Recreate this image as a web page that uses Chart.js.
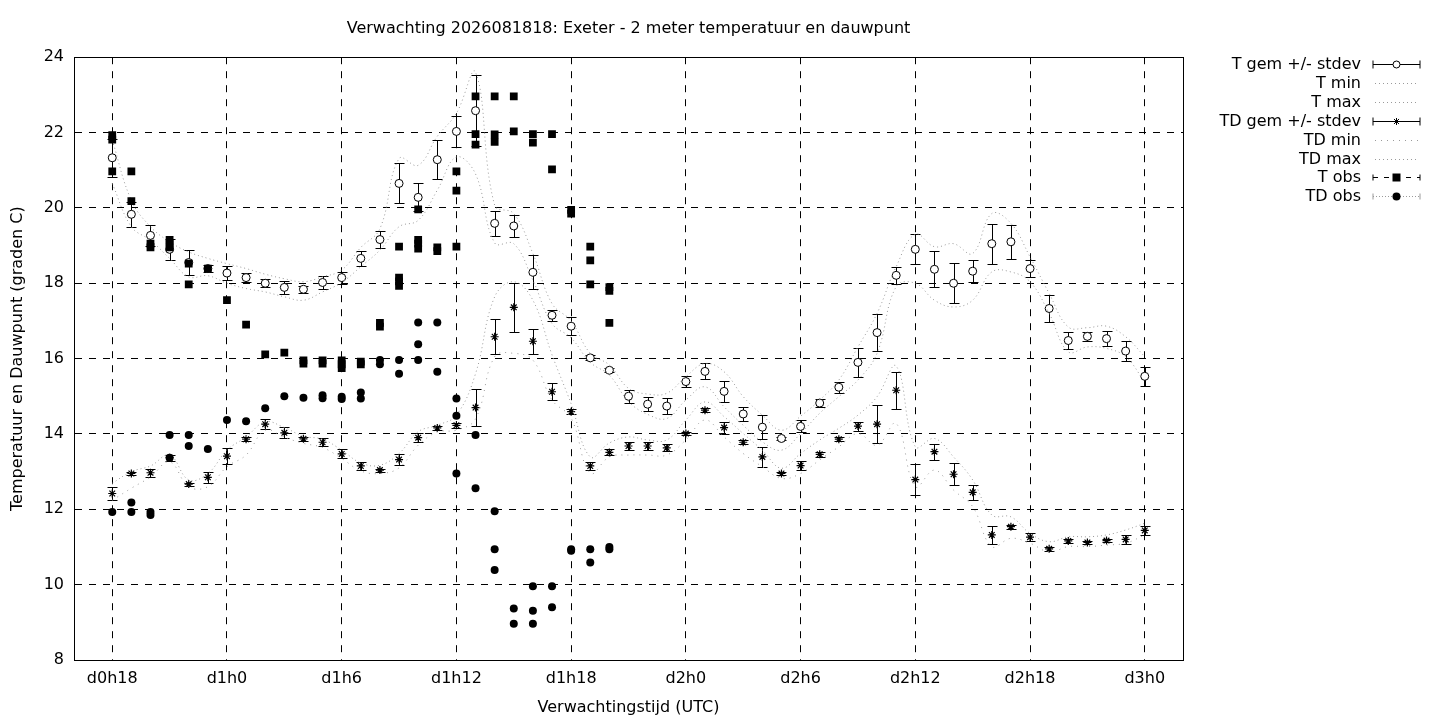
<!DOCTYPE html>
<html>
<head>
<meta charset="utf-8">
<script src="https://cdn.jsdelivr.net/npm/chart.js@4.4.1/dist/chart.umd.min.js"></script>
<style>
  html, body { margin: 0; padding: 0; background: #fff; }
  canvas { display: block; }
</style>
</head>
<body>
<canvas id="myChart" width="1440" height="720"></canvas>
<script>
const hours = [18, 19, 20, 21, 22, 23, 24, 25, 26, 27, 28, 29, 30, 31, 32, 33, 34, 35, 36,
  37, 38, 39, 40, 41, 42, 43, 44, 45, 46, 47, 48, 49, 50, 51, 52, 53, 54, 55, 56, 57, 58,
  59, 60, 61, 62, 63, 64, 65, 66, 67, 68, 69, 70, 71, 72]

const tickHours = [18, 24, 30, 36, 42, 48, 54, 60, 66, 72]
const tickLabels = ['d0h18', 'd1h0', 'd1h6', 'd1h12', 'd1h18', 'd2h0', 'd2h6', 'd2h12', 'd2h18', 'd3h0']

// forecast temperature: ensemble mean, stdev, min, max
const tGem = [21.33, 19.83, 19.27, 18.9, 18.55, 18.39, 18.27, 18.15, 18.0, 17.89, 17.84, 18.02,
  18.15, 18.66, 19.16, 20.65, 20.28, 21.28, 22.03, 22.58, 19.59, 19.52, 18.29, 17.15, 16.86,
  16.02, 15.69, 15.0, 14.79, 14.74, 15.39, 15.66, 15.13, 14.53, 14.18, 13.88, 14.2, 14.82,
  15.24, 15.9, 16.69, 18.21, 18.9, 18.37, 18.0, 18.32, 19.05, 19.1, 18.39, 17.33, 16.48,
  16.59, 16.53, 16.2, 15.53]
const tStd = [0.5, 0.33, 0.27, 0.27, 0.32, 0.1, 0.18, 0.13, 0.1, 0.18, 0.1, 0.16, 0.16, 0.2,
  0.22, 0.53, 0.37, 0.52, 0.41, 0.95, 0.33, 0.3, 0.45, 0.15, 0.24, 0.07, 0.05, 0.17, 0.19,
  0.22, 0.14, 0.21, 0.28, 0.18, 0.32, 0.05, 0.16, 0.1, 0.15, 0.38, 0.49, 0.23, 0.4, 0.48,
  0.53, 0.3, 0.53, 0.45, 0.22, 0.37, 0.23, 0.12, 0.19, 0.27, 0.25]
const tMin = [20.65, 19.5, 19.14, 18.66, 18.17, 18.2, 18.0, 17.86, 17.77, 17.64, 17.55, 17.77,
  18.02, 18.44, 18.88, 19.5, 19.67, 20.47, 21.35, 20.9, 19.07, 19.05, 18.08, 16.93, 16.55,
  15.9, 15.56, 14.86, 14.52, 14.41, 14.9, 15.25, 14.72, 14.23, 13.79, 13.57, 14.01, 14.55,
  14.99, 15.43, 16.14, 17.91, 18.0, 17.55, 17.37, 17.55, 18.3, 18.3, 18.04, 17.2, 16.18,
  16.31, 16.27, 16.05, 15.38]
const tMax = [21.8, 20.2, 19.5, 19.1, 18.83, 18.66, 18.52, 18.39, 18.24, 18.12, 18.04, 18.17,
  18.35, 18.95, 19.45, 21.31, 21.13, 21.9, 22.51, 23.6, 20.07, 19.85, 18.79, 17.46, 17.0,
  16.14, 15.83, 15.21, 15.06, 15.08, 15.52, 15.87, 15.65, 14.99, 14.5, 14.1, 14.47, 14.9,
  15.43, 16.31, 17.2, 18.44, 19.3, 18.97, 19.05, 18.79, 19.85, 19.59, 18.7, 17.73, 16.84,
  16.82, 16.86, 16.58, 16.05]

// forecast dew point
const tdGem = [12.42, 12.95, 12.97, 13.37, 12.67, 12.85, 13.41, 13.86, 14.26, 14.03, 13.87,
  13.78, 13.47, 13.15, 13.04, 13.32, 13.9, 14.16, 14.23, 14.7, 16.58, 17.36, 16.46, 15.12,
  14.59, 13.15, 13.51, 13.68, 13.68, 13.63, 14.01, 14.63, 14.17, 13.78, 13.39, 12.95, 13.16,
  13.46, 13.86, 14.21, 14.26, 15.16, 12.79, 13.53, 12.93, 12.45, 11.32, 11.54, 11.26, 10.95,
  11.16, 11.12, 11.17, 11.2, 11.44]
const tdStd = [0.16, 0.05, 0.1, 0.08, 0.04, 0.14, 0.21, 0.05, 0.13, 0.15, 0.05, 0.1, 0.12,
  0.1, 0.04, 0.14, 0.12, 0.05, 0.06, 0.5, 0.47, 0.65, 0.33, 0.22, 0.07, 0.11, 0.08, 0.1, 0.1,
  0.09, 0.05, 0.05, 0.16, 0.06, 0.26, 0.05, 0.13, 0.06, 0.06, 0.12, 0.5, 0.49, 0.41, 0.21,
  0.29, 0.2, 0.23, 0.05, 0.1, 0.05, 0.05, 0.05, 0.05, 0.13, 0.12]
const tdMin = [12.24, 12.56, 12.86, 13.26, 12.6, 12.6, 13.13, 13.44, 14.1, 13.91, 13.75, 13.64,
  13.35, 13.02, 12.95, 13.1, 13.7, 14.05, 14.1, 14.4, 16.05, 16.14, 15.96, 14.9, 14.42,
  12.96, 13.39, 13.44, 13.44, 13.44, 13.84, 14.37, 13.92, 13.48, 13.13, 12.82, 12.95, 13.31,
  13.66, 14.01, 13.7, 14.28, 12.6, 13.04, 12.51, 12.07, 11.01, 11.23, 11.1, 10.87, 11.01,
  11.01, 11.05, 11.1, 11.32]
const tdMax = [12.69, 13.0, 13.15, 13.44, 12.78, 12.95, 13.57, 13.92, 14.32, 14.17, 13.94,
  13.86, 13.57, 13.23, 13.17, 13.48, 14.06, 14.23, 14.5, 15.6, 17.64, 18.04, 17.55, 16.1,
  14.8, 13.39, 13.76, 13.92, 13.84, 13.84, 14.37, 14.85, 14.46, 14.01, 13.57, 13.09, 13.48,
  13.84, 14.15, 14.5, 14.99, 15.8, 13.66, 13.88, 13.39, 12.78, 11.85, 11.8, 11.36, 11.14,
  11.27, 11.27, 11.32, 11.45, 11.63]

// observations (several per hour)
const tObsHours = [18, 18, 18, 19, 19, 20, 20, 21, 21, 21, 22, 22, 23, 24, 25, 26, 27, 28, 28,
  29, 29, 30, 30, 30, 31, 31, 32, 32, 33, 33, 33, 33, 34, 34, 34, 34, 35, 35, 36, 36, 36,
  37, 37, 37, 38, 38, 38, 39, 39, 40, 40, 41, 41, 42, 42, 43, 43, 43, 44, 44, 44]
const tObsValues = [21.93, 21.81, 20.97, 20.97, 20.18, 19.05, 18.95, 19.15, 19.05, 18.95,
  18.52, 17.97, 18.39, 17.55, 16.9, 16.11, 16.16, 15.95, 15.87, 15.95, 15.87, 15.95, 15.85,
  15.75, 15.92, 15.85, 16.95, 16.85, 18.97, 18.15, 18.05, 17.93, 19.96, 19.15, 19.05, 18.92,
  18.95, 18.85, 20.97, 20.46, 18.97, 22.96, 21.96, 21.68, 22.96, 21.95, 21.75, 22.96, 22.03,
  21.96, 21.73, 21.96, 21.02, 19.95, 19.85, 18.97, 18.61, 17.97, 17.9, 17.8, 16.95]

const tdObsHours = [18, 19, 19, 20, 20, 21, 21, 22, 22, 23, 24, 25, 26, 27, 28, 29, 29, 30, 30,
  31, 31, 32, 32, 33, 33, 34, 34, 34, 35, 35, 36, 36, 36, 37, 37, 38, 38, 38, 39, 39, 40, 40,
  40, 41, 41, 42, 42, 43, 43, 44, 44]
const tdObsValues = [11.93, 12.18, 11.93, 11.93, 11.85, 13.97, 13.37, 13.97, 13.68, 13.6, 14.37,
  14.34, 14.68, 15.0, 14.96, 15.03, 14.95, 14.99, 14.93, 15.1, 14.94, 15.96, 15.85, 15.96,
  15.6, 16.96, 16.38, 15.96, 16.96, 15.65, 14.94, 14.48, 12.95, 13.97, 12.56, 11.95, 10.94,
  10.39, 9.37, 8.96, 9.96, 9.31, 8.96, 9.96, 9.4, 10.94, 10.9, 10.94, 10.59, 11.0, 10.94]

const legendLabels = ['T gem +/- stdev', 'T min', 'T max', 'TD gem +/- stdev', 'TD min',
  'TD max', 'T obs', 'TD obs']

const FONT = 'DejaVu Sans'
const GREY = '#9a9a9a'

function pairs(xs, ys) {
  return xs.map((h, i) => ({ x: h, y: ys[i] }))
}

function drawStar(ctx, x, y, r) {
  ctx.beginPath()
  ctx.moveTo(x - r, y); ctx.lineTo(x + r, y)
  ctx.moveTo(x, y - r); ctx.lineTo(x, y + r)
  const d = r * 0.72
  ctx.moveTo(x - d, y - d); ctx.lineTo(x + d, y + d)
  ctx.moveTo(x - d, y + d); ctx.lineTo(x + d, y - d)
  ctx.stroke()
}

// stdev whiskers, drawn before the points so the open circles sit on top
const errorBars = {
  id: 'errorBars',
  beforeDatasetsDraw(chart) {
    const { ctx, scales: { x, y } } = chart
    ctx.save()
    ctx.strokeStyle = '#000'
    ctx.lineWidth = 1
    const draw = (means, stds) => {
      hours.forEach((h, i) => {
        const px = Math.round(x.getPixelForValue(h)) + 0.5
        const top = Math.round(y.getPixelForValue(means[i] + stds[i])) + 0.5
        const bot = Math.round(y.getPixelForValue(means[i] - stds[i])) + 0.5
        ctx.beginPath()
        ctx.moveTo(px, top); ctx.lineTo(px, bot)
        ctx.moveTo(px - 5, top); ctx.lineTo(px + 5, top)
        ctx.moveTo(px - 5, bot); ctx.lineTo(px + 5, bot)
        ctx.stroke()
      })
    }
    draw(tGem, tStd)
    draw(tdGem, tdStd)
    ctx.restore()
  }
}

// plot frame + gnuplot style key on the right
const frameAndKey = {
  id: 'frameAndKey',
  afterDraw(chart) {
    const { ctx, chartArea: a } = chart
    ctx.save()
    ctx.strokeStyle = '#000'
    ctx.lineWidth = 1
    ctx.setLineDash([])
    ctx.strokeRect(Math.round(a.left) + 0.5, Math.round(a.top) + 0.5,
      Math.round(a.right - a.left), Math.round(a.bottom - a.top))

    ctx.font = '16px "' + FONT + '"'
    ctx.fillStyle = '#000'
    ctx.textAlign = 'right'
    ctx.textBaseline = 'middle'
    const x0 = 1373, x1 = 1420, xm = (x0 + x1) / 2
    legendLabels.forEach((label, i) => {
      const yy = Math.round(64 + i * 18.9) + 0.5
      ctx.fillText(label, 1361, yy)
      ctx.strokeStyle = '#000'
      ctx.setLineDash([])
      if (i === 0 || i === 3) {
        ctx.beginPath()
        ctx.moveTo(x0, yy); ctx.lineTo(x1, yy)
        ctx.moveTo(x0, yy - 4); ctx.lineTo(x0, yy + 4)
        ctx.moveTo(x1, yy - 4); ctx.lineTo(x1, yy + 4)
        ctx.stroke()
        if (i === 0) {
          ctx.beginPath()
          ctx.arc(xm, yy, 3.5, 0, Math.PI * 2)
          ctx.fillStyle = '#fff'
          ctx.fill()
          ctx.stroke()
          ctx.fillStyle = '#000'
        } else {
          drawStar(ctx, xm, yy, 3.5)
        }
      } else if (i === 6 || i === 7) {
        ctx.setLineDash(i === 6 ? [5, 6] : [1, 2])
        ctx.strokeStyle = i === 6 ? '#000' : GREY
        ctx.beginPath()
        ctx.moveTo(x0, yy); ctx.lineTo(x1, yy)
        ctx.stroke()
        ctx.setLineDash([])
        ctx.beginPath()
        ctx.moveTo(x0, yy - 3); ctx.lineTo(x0, yy + 3)
        ctx.moveTo(x1, yy - 3); ctx.lineTo(x1, yy + 3)
        ctx.stroke()
        ctx.fillStyle = '#000'
        ctx.beginPath()
        if (i === 6) ctx.rect(xm - 4, yy - 4, 8, 8)
        else ctx.arc(xm, yy, 4, 0, Math.PI * 2)
        ctx.fill()
      } else {
        ctx.strokeStyle = GREY
        ctx.setLineDash(i === 4 ? [1, 5] : [1, 3])
        ctx.beginPath()
        ctx.moveTo(x0 + 2, yy); ctx.lineTo(x1 - 2, yy)
        ctx.stroke()
      }
    })
    ctx.restore()
  }
}

const lineSet = (label, values, dash, order) => ({
  label,
  data: pairs(hours, values),
  showLine: true,
  borderColor: GREY,
  borderWidth: 1,
  borderDash: dash,
  tension: 0.4,
  pointRadius: 0,
  pointHoverRadius: 0,
  order
})

const datasets = [
  {
    label: legendLabels[0],
    data: pairs(hours, tGem),
    pointStyle: 'circle',
    pointRadius: 4,
    pointBorderWidth: 1,
    pointBorderColor: '#000',
    pointBackgroundColor: '#fff',
    order: 8
  },
  lineSet(legendLabels[1], tMin, [1, 3], 7),
  lineSet(legendLabels[2], tMax, [1, 3], 6),
  {
    label: legendLabels[3],
    data: pairs(hours, tdGem),
    pointStyle: 'star',
    pointRadius: 4,
    pointBorderWidth: 1.2,
    pointBorderColor: '#000',
    order: 5
  },
  lineSet(legendLabels[4], tdMin, [1, 5], 4),
  lineSet(legendLabels[5], tdMax, [1, 3], 3),
  {
    label: legendLabels[6],
    data: pairs(tObsHours, tObsValues),
    pointStyle: 'rect',
    pointRadius: 5.5,
    pointBorderWidth: 0,
    pointBackgroundColor: '#000',
    order: 2
  },
  {
    label: legendLabels[7],
    data: pairs(tdObsHours, tdObsValues),
    pointStyle: 'circle',
    pointRadius: 4,
    pointBorderWidth: 0,
    pointBackgroundColor: '#000',
    order: 1
  }
]

const textFont = { family: FONT, size: 16 }

const config = {
  type: 'scatter',
  data: { datasets },
  plugins: [errorBars, frameAndKey],
  options: {
    responsive: false,
    animation: false,
    devicePixelRatio: 1,
    layout: { padding: { top: 0, right: 257, bottom: 0, left: 0 } },
    plugins: {
      legend: { display: false },
      tooltip: { enabled: false },
      title: {
        display: true,
        fullSize: false,
        text: 'Verwachting 2026081818: Exeter - 2 meter temperatuur en dauwpunt',
        color: '#000',
        font: { family: FONT, size: 16, weight: 'normal' },
        padding: { top: 19, bottom: 19 }
      }
    },
    scales: {
      x: {
        type: 'linear',
        min: 16,
        max: 74,
        afterBuildTicks: (scale) => {
          scale.ticks = tickHours.map((v) => ({ value: v }))
        },
        afterFit: (scale) => { scale.height = 60 },
        ticks: {
          autoSkip: false,
          maxRotation: 0,
          color: '#000',
          font: textFont,
          padding: 9,
          callback: (v) => tickLabels[tickHours.indexOf(v)]
        },
        grid: { color: '#000', lineWidth: 1, drawTicks: false },
        border: { display: true, color: '#000', dash: [7, 7] },
        title: {
          display: true,
          text: 'Verwachtingstijd (UTC)',
          color: '#000',
          font: textFont,
          padding: { top: 0, bottom: 3 }
        }
      },
      y: {
        min: 8,
        max: 24,
        afterFit: (scale) => { scale.width = 74 },
        ticks: { stepSize: 2, color: '#000', font: textFont, padding: 10 },
        grid: { color: '#000', lineWidth: 1, drawTicks: false },
        border: { display: true, color: '#000', dash: [7, 7] },
        title: {
          display: true,
          text: 'Temperatuur en Dauwpunt (graden C)',
          color: '#000',
          font: textFont,
          padding: { top: 8, bottom: 0 }
        }
      }
    }
  }
}

const myChart = new Chart(document.getElementById('myChart'), config)
</script>
</body>
</html>
